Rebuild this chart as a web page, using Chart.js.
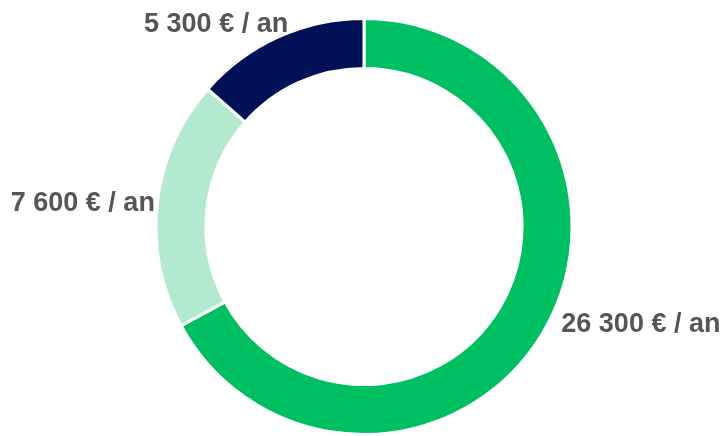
<!DOCTYPE html>
<html>
<head>
<meta charset="utf-8">
<script src="https://cdn.jsdelivr.net/npm/chart.js@4/dist/chart.umd.min.js"></script>
<style>
html,body{margin:0;padding:0;background:#fff;}
#wrap{width:723px;height:436px;position:relative;}
</style>
</head>
<body>
<div id="wrap"><canvas id="c" width="723" height="436"></canvas></div>
<script>
const categories = ["Part A", "Part B", "Part C"];
const values = [26300, 7600, 5300];
const labels = ["26 300 € / an", "7 600 € / an", "5 300 € / an"];
const colors = ["#00BF63", "#B3EACF", "#001158"];

const labelPlugin = {
  id: 'outLabels',
  afterDatasetsDraw(chart, args, opts) {
    const ctx = chart.ctx;
    const meta = chart.getDatasetMeta(0);
    ctx.save();
    ctx.font = 'bold 27px "Liberation Sans", Arial, sans-serif';
    ctx.fillStyle = '#555555';
    ctx.textBaseline = 'alphabetic';
    meta.data.forEach((arc, i) => {
      const p = arc.getProps(['x','y','startAngle','endAngle','outerRadius'], true);
      const mid = (p.startAngle + p.endAngle) / 2;
      const r = p.outerRadius + opts.gap;
      const ax = p.x + Math.cos(mid) * r;
      const ay = p.y + Math.sin(mid) * r;
      const o = opts.nudge[i];
      ctx.textAlign = Math.cos(mid) >= 0 ? 'left' : 'right';
      ctx.fillText(labels[i], ax + o[0], ay + o[1]);
    });
    ctx.restore();
  }
};

new Chart(document.getElementById('c'), {
  type: 'doughnut',
  data: {
    labels: categories,
    datasets: [{
      data: values,
      backgroundColor: colors,
      borderColor: '#ffffff',
      borderWidth: 3,
      hoverOffset: 0
    }]
  },
  options: {
    responsive: false,
    animation: false,
    cutout: '76%',
    layout: { padding: { top: 17, bottom: 0, left: 5, right: 0 } },
    plugins: {
      legend: { display: false },
      tooltip: { enabled: false },
      outLabels: { gap: 10, nudge: [[10, -6], [7.5, 9], [14, 4]] }
    }
  },
  plugins: [labelPlugin]
});
</script>
</body>
</html>
